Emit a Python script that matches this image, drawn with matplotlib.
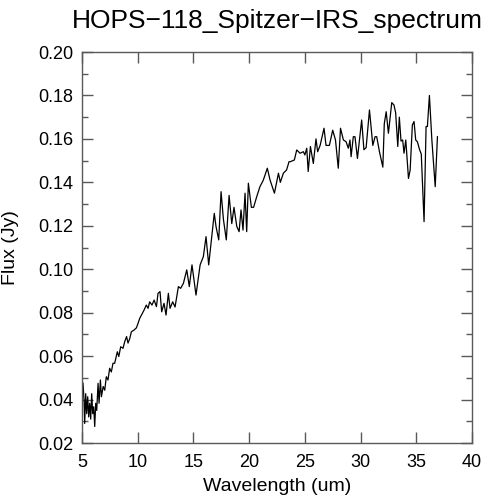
import numpy as np
import matplotlib
matplotlib.use('Agg')
import matplotlib.pyplot as plt
from matplotlib.ticker import MultipleLocator

plt.rcParams['font.family'] = ['Liberation Sans', 'DejaVu Sans']

# spectrum (um, Jy)
wave = [5.09, 5.18, 5.24, 5.33, 5.42, 5.51, 5.60, 5.69, 5.78, 5.87, 5.96, 6.05,
        6.14, 6.23, 6.32, 6.44, 6.53, 6.65, 6.74, 6.90, 7.04, 7.18, 7.33, 7.48,
        7.63, 7.78, 7.93, 8.17, 8.30, 8.47, 8.68, 8.83, 9.00, 9.13, 9.28, 9.43,
        9.67, 9.88, 10.03, 10.18, 10.33, 10.57, 10.77, 10.93, 11.07, 11.28, 11.47,
        11.68, 11.82, 12.00, 12.15, 12.36, 12.54, 12.75, 12.90, 13.14, 13.35,
        13.50, 13.65, 13.85, 14.10, 14.40, 14.63, 14.87, 15.23, 15.60, 15.89,
        16.13, 16.37, 16.60, 16.87, 17.03, 17.27, 17.48, 17.69, 17.95, 18.20,
        18.44, 18.64, 18.89, 19.10, 19.27, 19.45, 19.63, 19.78, 19.93, 20.20,
        20.40, 20.68, 20.97, 21.27, 21.63, 21.88, 22.27, 22.63, 22.80, 23.07,
        23.36, 23.58, 23.70, 24.06, 24.27, 24.57, 24.87, 25.00, 25.17, 25.30,
        25.50, 25.76, 26.00, 26.15, 26.37, 26.72, 26.90, 27.20, 27.50, 27.75,
        28.00, 28.20, 28.46, 28.70, 28.90, 29.05, 29.15, 29.35, 29.50, 29.72,
        30.10, 30.30, 30.50, 30.80, 31.10, 31.30, 31.45, 31.70, 32.00, 32.13,
        32.30, 32.50, 32.80, 33.00, 33.15, 33.34, 33.48, 33.63, 33.78, 33.90,
        34.06, 34.30, 34.45, 34.65, 34.80, 34.95, 35.10, 35.30, 35.45, 35.70,
        35.88, 36.00, 36.18, 36.40, 36.70, 36.90]
flux = [0.0475, 0.0398, 0.0290, 0.0427, 0.0335, 0.0413, 0.0320, 0.0383, 0.0310,
        0.0427, 0.0335, 0.0367, 0.0276, 0.0383, 0.0350, 0.0475, 0.0383, 0.0490,
        0.0413, 0.0460, 0.0443, 0.0505, 0.0490, 0.0544, 0.0527, 0.0567, 0.0567,
        0.0620, 0.0598, 0.0643, 0.0636, 0.0666, 0.0690, 0.0660, 0.0680, 0.0712,
        0.0720, 0.0730, 0.0751, 0.0774, 0.0789, 0.0812, 0.0835, 0.0820, 0.0850,
        0.0835, 0.0858, 0.0828, 0.0889, 0.0897, 0.0804, 0.0843, 0.0789, 0.0889,
        0.0820, 0.0850, 0.0826, 0.0874, 0.0920, 0.0912, 0.0935, 0.0997, 0.0920,
        0.1020, 0.0881, 0.1020, 0.1058, 0.1150, 0.1020, 0.1127, 0.1257, 0.1196,
        0.1135, 0.1357, 0.1230, 0.1135, 0.1340, 0.1210, 0.1285, 0.1197, 0.1173,
        0.1273, 0.1180, 0.1350, 0.1173, 0.1396, 0.1285, 0.1285, 0.1334, 0.1380,
        0.1410, 0.1465, 0.1410, 0.1350, 0.1442, 0.1400, 0.1442, 0.1457, 0.1495,
        0.1495, 0.1503, 0.1549, 0.1534, 0.1541, 0.1526, 0.1557, 0.1450, 0.1565,
        0.1487, 0.1600, 0.1541, 0.1570, 0.1649, 0.1570, 0.1570, 0.1640, 0.1595,
        0.1465, 0.1649, 0.1595, 0.1587, 0.1557, 0.1595, 0.1518, 0.1610, 0.1610,
        0.1510, 0.1687, 0.1550, 0.1560, 0.1733, 0.1570, 0.1610, 0.1610, 0.1540,
        0.1470, 0.1670, 0.1725, 0.1626, 0.1767, 0.1756, 0.1720, 0.1565, 0.1700,
        0.1590, 0.1595, 0.1534, 0.1595, 0.1418, 0.1456, 0.1664, 0.1680, 0.1595,
        0.1587, 0.1550, 0.1530, 0.1219, 0.1657, 0.1657, 0.1800, 0.1595, 0.1380,
        0.1610]

fig = plt.figure(figsize=(4.92, 5.0), dpi=100)
ax = fig.add_axes([0.1667, 0.114, 0.7926, 0.782])
ax.plot(wave, flux, color='black', lw=0.9)

ax.set_xlim(5, 40)
ax.set_ylim(0.02, 0.20)
ax.xaxis.set_major_locator(MultipleLocator(5))
ax.yaxis.set_major_locator(MultipleLocator(0.02))
ax.yaxis.set_minor_locator(MultipleLocator(0.01))
ax.yaxis.set_major_formatter(plt.FormatStrFormatter('%.2f'))
ax.tick_params(which='both', direction='in', top=True, right=True, color='0.35',
               labelsize=13)
ax.tick_params(axis='y', pad=6)
ax.tick_params(axis='x', pad=8)
ax.tick_params(which='major', length=8, width=1)
ax.tick_params(which='minor', length=4, width=1)
for s in ax.spines.values():
    s.set_color('0.35')
    s.set_linewidth(1.0)

ax.set_xlabel('Wavelength (um)', fontsize=14, labelpad=5)
ax.set_ylabel('Flux (Jy)', fontsize=14, labelpad=14)
ax.set_title('HOPS\u2212118_Spitzer\u2212IRS_spectrum', fontsize=19, pad=17)

fig.savefig('out.png', dpi=100)
